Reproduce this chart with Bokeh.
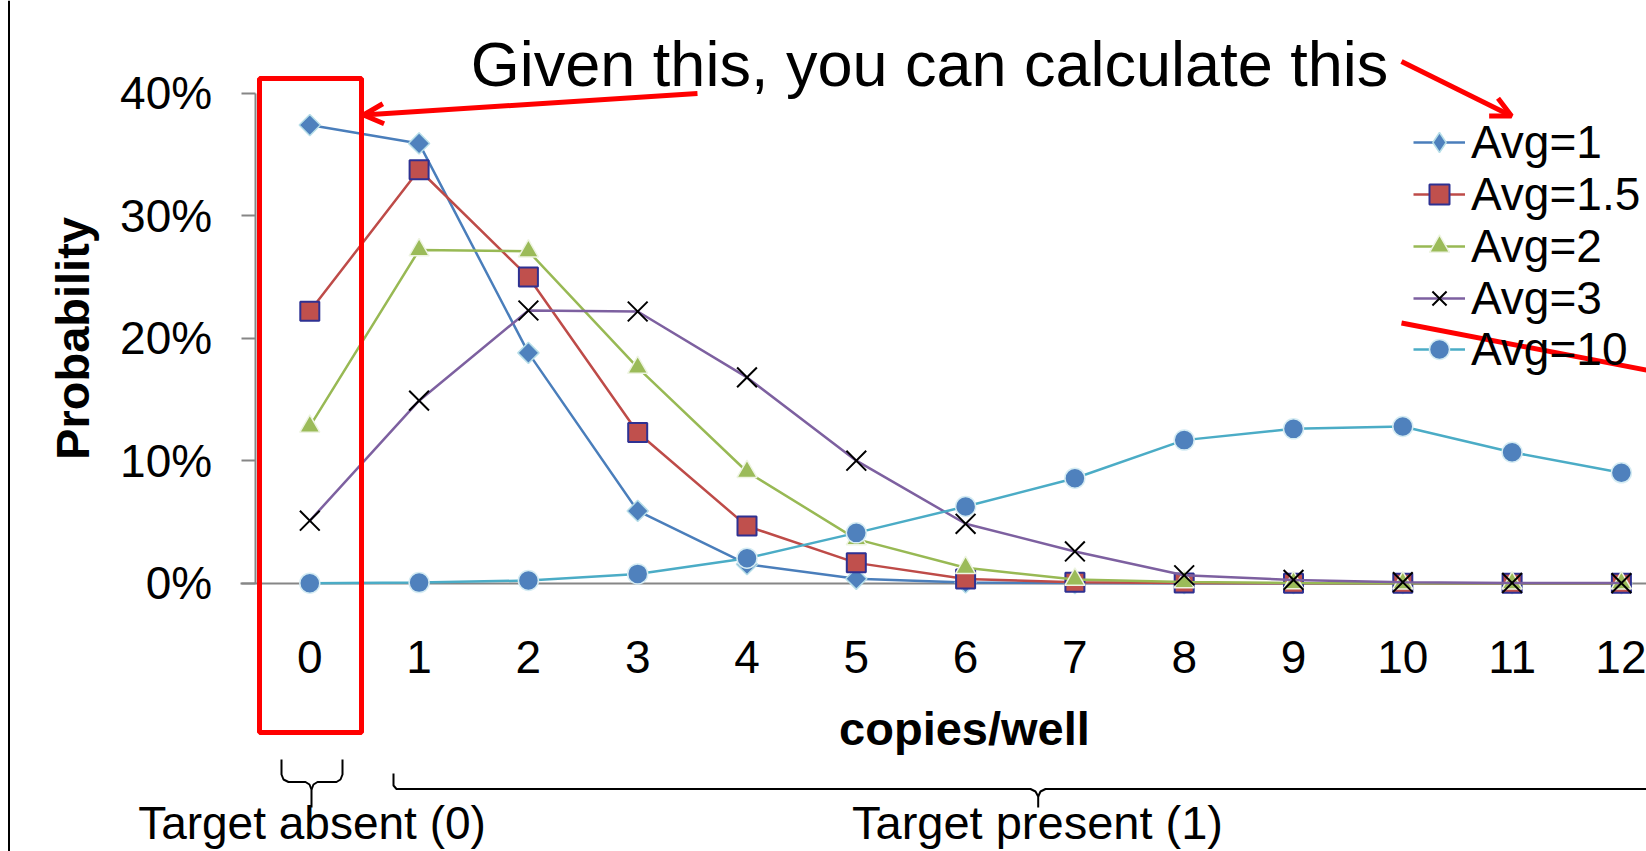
import numpy as np
from bokeh.plotting import figure
from bokeh.models import (Range1d, LinearAxis, FixedTicker, NumeralTickFormatter,
                          Legend, LegendItem, BoxAnnotation, Arrow, OpenHead, Label, Span)
from bokeh.embed import file_html
from bokeh.resources import INLINE

# ---- data: Poisson-like probability of N copies per well for several averages ----
copies = list(range(13))
avg_1 = [0.374, 0.359, 0.188, 0.059, 0.0155, 0.0036, 0.0006, 0.0001, 0, 0, 0, 0, 0]
avg_1_5 = [0.222, 0.3375, 0.250, 0.123, 0.0466, 0.0166, 0.0035, 0.0008, 0.0001, 0, 0, 0, 0]
avg_2 = [0.128, 0.272, 0.271, 0.176, 0.091, 0.036, 0.0126, 0.0030, 0.0009, 0.0002, 0, 0, 0]
avg_3 = [0.051, 0.149, 0.2226, 0.2218, 0.168, 0.100, 0.0485, 0.0259, 0.0065, 0.0027, 0.0008, 0.0002, 0.0001]
avg_10 = [0, 0.0005, 0.0022, 0.0076, 0.0204, 0.0411, 0.0626, 0.0857, 0.1168, 0.126, 0.1279, 0.1069, 0.0901]
series_labels = ["Avg=1", "Avg=1.5", "Avg=2", "Avg=3", "Avg=10"]
y_ticks = [0, 0.1, 0.2, 0.3, 0.4]

# ---- page geometry ----
W, H = 1646, 851
X0_PX, X_UNIT = 309.3, 109.3      # pixel of category 0, pixels per category
Y0_PX, Y_UNIT = 582.7, 1225.0     # pixel of 0 %, pixels per 100 %


def sx(px):
    return (px - X0_PX) / X_UNIT


def sy(py):
    return (Y0_PX - py) / Y_UNIT


FONT = "Liberation Sans"
RED = "#FF0000"
AXIS_GREY = "#868686"

p = figure(width=W, height=H, output_backend="svg", toolbar_location=None,
           x_range=Range1d(sx(0), sx(W)), y_range=Range1d(sy(H), sy(0)),
           x_axis_location=None, y_axis_location=None, min_border=0,
           outline_line_color=None, background_fill_color="white",
           border_fill_color="white")
p.grid.visible = False

# ---- axes drawn at fixed data locations inside the frame ----
yaxis = LinearAxis(fixed_location=-0.5, bounds=(0, 0.4),
                   ticker=FixedTicker(ticks=y_ticks, minor_ticks=[]),
                   formatter=NumeralTickFormatter(format="0%"),
                   axis_line_color=AXIS_GREY, axis_line_width=2,
                   major_tick_line_color=AXIS_GREY, major_tick_line_width=2,
                   major_tick_out=14, major_tick_in=0,
                   minor_tick_line_color=None,
                   major_label_standoff=29,
                   major_label_text_font=FONT, major_label_text_font_size="46px",
                   major_label_text_color="black",
                   axis_label="Probability", axis_label_standoff=18,
                   axis_label_text_font=FONT, axis_label_text_font_size="47px",
                   axis_label_text_font_style="bold", axis_label_text_color="black")
yaxis.level = "underlay"
p.add_layout(yaxis, "left")

# horizontal axis line at 0 %
xaxis_line = LinearAxis(fixed_location=0, bounds=(sx(240), sx(1700)),
                        ticker=FixedTicker(ticks=[], minor_ticks=[]),
                        axis_line_color=AXIS_GREY, axis_line_width=2,
                        major_tick_line_color=None, minor_tick_line_color=None,
                        major_label_text_font_size="0px")
xaxis_line.level = "underlay"
p.add_layout(xaxis_line, "below")

# category labels and axis title
xaxis = LinearAxis(fixed_location=0, bounds=(sx(282), sx(1700)),
                   ticker=FixedTicker(ticks=copies, minor_ticks=[]),
                   axis_line_color=None,
                   major_tick_line_color=None, major_tick_out=0, major_tick_in=0,
                   minor_tick_line_color=None,
                   major_label_standoff=58,
                   major_label_text_font=FONT, major_label_text_font_size="46px",
                   major_label_text_color="black",
                   axis_label="copies/well", axis_label_standoff=25,
                   axis_label_text_font=FONT, axis_label_text_font_size="47px",
                   axis_label_text_font_style="bold", axis_label_text_color="black")
xaxis.level = "underlay"
p.add_layout(xaxis, "below")

# ---- series ----
styles = [
    dict(line="#4A7EBB", marker="square", size=15, angle=np.pi / 4, fill="#4F81BD", edge="#B7DEE8", ew=1.5),
    dict(line="#BE4B48", marker="square", size=19, angle=0, fill="#C0504D", edge="#2E3192", ew=2),
    dict(line="#98B954", marker="triangle", size=20, angle=0, fill="#9BBB59", edge="#EEF4E2", ew=1.5),
    dict(line="#7D60A0", marker="x", size=28, angle=0, fill=None, edge="black", ew=2),
    dict(line="#4BACC6", marker="circle", size=20, angle=0, fill="#4F81BD", edge="#D5ECF3", ew=1.5),
]
values = [avg_1, avg_1_5, avg_2, avg_3, avg_10]

# one legend row per series, stacked at a fixed pitch
LEG_LEFT, LEG_TOP_CENTER, LEG_PITCH, LEG_ROW_H = 1413, 142.7, 51.7, 53.5
for i, (label, vals, st) in enumerate(zip(series_labels, values, styles)):
    lr = p.line(copies, vals, line_color=st["line"], line_width=2.5)
    key_r = None
    if st["angle"] != 0:
        # legend keys are drawn unrotated, so the rotated-square series gets a
        # diamond key glyph, drawn first so its points stay under the markers
        key_r = p.scatter(copies, vals, marker="diamond", size=2,
                          fill_color=st["fill"], line_color=None)
    sr = p.scatter(copies, vals, marker=st["marker"], size=st["size"], angle=st["angle"],
                   fill_color=st["fill"], line_color=st["edge"], line_width=st["ew"])
    if key_r is not None:
        key_r.glyph.line_color = st["edge"]
        key_r.glyph.line_width = st["ew"]
        key_renderers = [lr, key_r]
    else:
        key_renderers = [lr, sr]
    row_center = LEG_TOP_CENTER + i * LEG_PITCH
    legend = Legend(items=[LegendItem(label=label, renderers=key_renderers)],
                    location=(LEG_LEFT, H - row_center - LEG_ROW_H / 2),
                    glyph_width=52, glyph_height=50, label_height=50,
                    label_standoff=6, spacing=0, padding=0, margin=0,
                    label_text_font=FONT, label_text_font_size="46px",
                    label_text_color="black",
                    border_line_color=None, background_fill_alpha=0)
    p.add_layout(legend, "center")

# ---- annotation overlay ----
p.add_layout(Span(location=sx(8.5), dimension="height", line_color="black", line_width=2))

p.add_layout(BoxAnnotation(left=sx(259), right=sx(361), top=sy(78), bottom=sy(732),
                           fill_color=None, fill_alpha=0,
                           line_color=RED, line_alpha=1.0, line_width=5))

p.add_layout(Arrow(x_start=sx(697), y_start=sy(93), x_end=sx(363), y_end=sy(114.5),
                   line_color=RED, line_width=5,
                   end=OpenHead(size=20, line_color=RED, line_width=5)))
p.add_layout(Arrow(x_start=sx(1401), y_start=sy(61), x_end=sx(1511), y_end=sy(115.5),
                   line_color=RED, line_width=5,
                   end=OpenHead(size=20, line_color=RED, line_width=5)))
p.add_layout(Arrow(x_start=sx(1401), y_start=sy(322.5), x_end=sx(1700), y_end=sy(380),
                   line_color=RED, line_width=5, end=None))

p.add_layout(Label(x=sx(929), y=sy(63), text="Given this, you can calculate this",
                   text_font=FONT, text_font_size="63px", text_color="black",
                   text_align="center", text_baseline="alphabetic"))

# braces grouping the categories
brace_xs = [
    [281, 281, 283, 288, 305, 309, 311, 311],
    [311, 313, 317, 336, 340, 342, 342],
    [393, 393, 396, 1030, 1035, 1037.7, 1037.7],
    [1037.7, 1040, 1045, 1700],
]
brace_ys = [
    [759, 774, 779, 781.5, 781.5, 784, 789, 807],
    [789, 784, 781.5, 781.5, 779, 774, 759],
    [773, 785, 788.5, 788.5, 791, 796, 807],
    [796, 791, 788.5, 788.5],
]
p.multi_line([[sx(v) for v in xs] for xs in brace_xs],
             [[sy(v) for v in ys] for ys in brace_ys],
             line_color="black", line_width=2)

p.add_layout(Label(x=sx(311.5), y=sy(822), text="Target absent (0)",
                   text_font=FONT, text_font_size="46px", text_color="black",
                   text_align="center", text_baseline="alphabetic"))
p.add_layout(Label(x=sx(1037), y=sy(822), text="Target present (1)",
                   text_font=FONT, text_font_size="47px", text_color="black",
                   text_align="center", text_baseline="alphabetic"))

open("out.html", "w").write(file_html(p, INLINE))
